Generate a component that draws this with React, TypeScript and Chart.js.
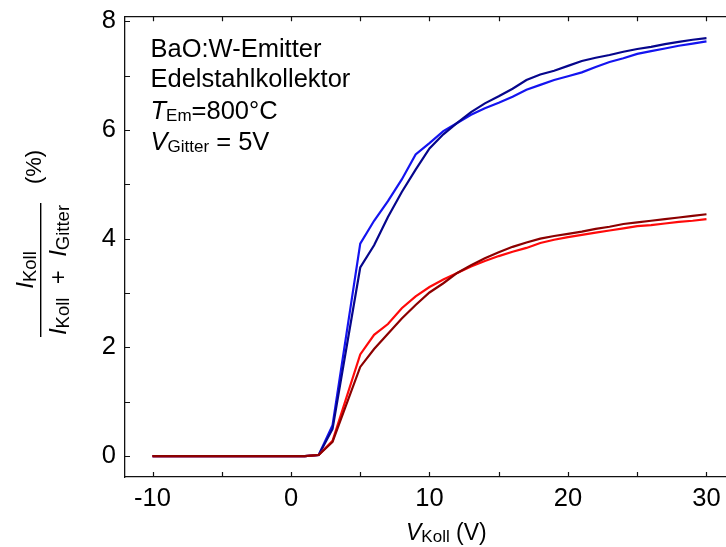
import React, { useEffect, useRef } from "react";
import { Chart, registerables } from "chart.js";

Chart.register(...registerables);

// Collector voltage V_Koll (V)
const voltages = [
  -10, -9, -8, -7, -6, -5, -4, -3, -2, -1, 0, 1, 2, 3,
  5, 6, 7, 8, 9, 10, 11, 12, 13, 14, 15, 16, 17, 18, 19, 20,
  21, 22, 23, 24, 25, 26, 27, 28, 29, 30,
];

// I_Koll / (I_Koll + I_Gitter) in %
const blueLight = [
  0, 0, 0, 0, 0, 0, 0, 0, 0, 0, 0, 0, 0.02, 0.57,
  3.91, 4.33, 4.69, 5.09, 5.55, 5.76, 5.98, 6.13, 6.28, 6.40, 6.50, 6.61, 6.74, 6.83, 6.92, 6.99,
  7.06, 7.16, 7.25, 7.32, 7.40, 7.45, 7.50, 7.55, 7.59, 7.63,
];
const blueDark = [
  0, 0, 0, 0, 0, 0, 0, 0, 0, 0, 0, 0, 0.02, 0.50,
  3.47, 3.88, 4.40, 4.86, 5.27, 5.66, 5.92, 6.13, 6.33, 6.49, 6.62, 6.76, 6.92, 7.02, 7.09, 7.18,
  7.27, 7.33, 7.38, 7.44, 7.49, 7.53, 7.58, 7.62, 7.66, 7.69,
];
const redLight = [
  0, 0, 0, 0, 0, 0, 0, 0, 0, 0, 0, 0, 0.02, 0.28,
  1.87, 2.23, 2.43, 2.72, 2.94, 3.11, 3.25, 3.37, 3.49, 3.59, 3.68, 3.76, 3.83, 3.92, 3.98, 4.03,
  4.07, 4.11, 4.15, 4.19, 4.23, 4.25, 4.28, 4.31, 4.33, 4.36,
];
const redDark = [
  0, 0, 0, 0, 0, 0, 0, 0, 0, 0, 0, 0, 0.02, 0.26,
  1.64, 1.97, 2.25, 2.53, 2.78, 3.01, 3.18, 3.37, 3.51, 3.64, 3.75, 3.85, 3.93, 4.00, 4.05, 4.09,
  4.13, 4.18, 4.22, 4.27, 4.30, 4.33, 4.36, 4.39, 4.42, 4.45,
];

const xTicks = [-10, -5, 0, 5, 10, 15, 20, 25, 30];
const xTickLabels = [-10, 0, 10, 20, 30];
const yTicks = [0, 1, 2, 3, 4, 5, 6, 7, 8];
const yTickLabels = [0, 2, 4, 6, 8];

const FAM = '"Liberation Sans", Arial, Helvetica, sans-serif';
const AX = "#111111";

type Part = { text: string; font: string; dy?: number };

function partsWidth(ctx: CanvasRenderingContext2D, parts: Part[]) {
  let w = 0;
  for (const p of parts) {
    ctx.font = p.font;
    w += ctx.measureText(p.text).width;
  }
  return w;
}

function drawParts(ctx: CanvasRenderingContext2D, x: number, y: number, parts: Part[]) {
  let cx = x;
  for (const p of parts) {
    ctx.font = p.font;
    ctx.fillText(p.text, cx, y + (p.dy || 0));
    cx += ctx.measureText(p.text).width;
  }
}

const decorPlugin = {
  id: "decor",
  afterDraw(chart: any) {
    const ctx: CanvasRenderingContext2D = chart.ctx;
    const { left, top, bottom } = chart.chartArea;
    const xs = chart.scales.x;
    const ys = chart.scales.y;
    ctx.save();
    // inward ticks
    ctx.strokeStyle = AX;
    ctx.lineWidth = 1.2;
    ctx.beginPath();
    for (const v of xTicks) {
      const px = Math.round(xs.getPixelForValue(v)) + 0.5;
      ctx.moveTo(px, bottom);
      ctx.lineTo(px, bottom - 5);
      ctx.moveTo(px, top);
      ctx.lineTo(px, top + 5);
    }
    for (const v of yTicks) {
      const py = Math.round(ys.getPixelForValue(v)) + 0.5;
      ctx.moveTo(left, py);
      ctx.lineTo(left + 5, py);
    }
    ctx.stroke();

    ctx.fillStyle = "#000";
    ctx.textAlign = "left";
    ctx.textBaseline = "alphabetic";

    // annotation
    const main = `25.5px ${FAM}`;
    const ital = `italic 25.5px ${FAM}`;
    const sub = `17px ${FAM}`;
    drawParts(ctx, 150.5, 56.7, [{ text: "BaO:W-Emitter", font: main }]);
    drawParts(ctx, 150.5, 86.7, [{ text: "Edelstahlkollektor", font: main }]);
    drawParts(ctx, 150.5, 119, [
      { text: "T", font: ital },
      { text: "Em", font: sub, dy: 2 },
      { text: "=800°C", font: main },
    ]);
    drawParts(ctx, 150.5, 150, [
      { text: "V", font: ital },
      { text: "Gitter", font: sub, dy: 2 },
      { text: " = 5V", font: main },
    ]);

    // x-axis title
    const xt: Part[] = [
      { text: "V", font: `italic 23px ${FAM}` },
      { text: "Koll", font: `17px ${FAM}`, dy: 2 },
      { text: " (V)", font: `23px ${FAM}` },
    ];
    drawParts(ctx, 406, 540, xt);

    // y-axis title (rotated fraction)
    const ym = 24;
    const ysb = 18.5;
    const num: Part[] = [
      { text: "I", font: `italic ${ym}px ${FAM}` },
      { text: "Koll", font: `${ysb}px ${FAM}`, dy: 3 },
    ];
    const den: Part[] = [
      { text: "I", font: `italic ${ym}px ${FAM}` },
      { text: "Koll", font: `${ysb}px ${FAM}`, dy: 3 },
      { text: "  +  ", font: `${ym}px ${FAM}` },
      { text: "I", font: `italic ${ym}px ${FAM}` },
      { text: "Gitter", font: `${ysb}px ${FAM}`, dy: 3 },
    ];
    const pct: Part[] = [{ text: "(%)", font: `22px ${FAM}` }];

    const rot = (cx: number, cy: number, parts: Part[]) => {
      ctx.save();
      ctx.translate(cx, cy);
      ctx.rotate(-Math.PI / 2);
      const w = partsWidth(ctx, parts);
      drawParts(ctx, -w / 2, 0, parts);
      ctx.restore();
    };
    rot(33, 270, num);
    rot(65.5, 270, den);
    rot(41, 167, pct);
    ctx.strokeStyle = "#000";
    ctx.lineWidth = 1.4;
    ctx.beginPath();
    ctx.moveTo(40.7, 203);
    ctx.lineTo(40.7, 337);
    ctx.stroke();

    ctx.restore();
  },
};

export default function App() {
  const ref = useRef<HTMLCanvasElement>(null);
  useEffect(() => {
    if (!ref.current) return;
    const mk = (vals: number[]) => voltages.map((v, i) => ({ x: v, y: vals[i] }));
    const ds = (label: string, vals: number[], color: string, order: number) => ({
      label,
      data: mk(vals),
      borderColor: color,
      backgroundColor: color,
      borderWidth: 2.2,
      pointRadius: 0,
      tension: 0,
      fill: false,
      order,
    });
    const chart = new Chart(ref.current, {
      type: "line",
      data: {
        datasets: [
          ds("redDark", redDark, "#8c0000", 0),
          ds("redLight", redLight, "#ff0a0a", 1),
          ds("blueDark", blueDark, "#06068c", 2),
          ds("blueLight", blueLight, "#1414f0", 3),
        ],
      },
      options: {
        animation: false,
        responsive: false,
        devicePixelRatio: 1,
        layout: { padding: 0 },
        plugins: { legend: { display: false }, tooltip: { enabled: false } },
        scales: {
          x: {
            type: "linear",
            position: "bottom",
            min: -11.986,
            max: 31.41,
            afterFit: (s: any) => {
              s.height = 70;
            },
            afterBuildTicks: (s: any) => {
              s.ticks = xTicks.map((value) => ({ value }));
            },
            grid: { display: false },
            border: { display: true, color: AX, width: 1.3 },
            ticks: {
              autoSkip: false,
              maxRotation: 0,
              padding: -1,
              color: "#000",
              font: { family: FAM, size: 25.5 },
              callback: (v: any) => (xTickLabels.includes(Number(v)) ? String(v) : ""),
            },
          },
          x2: {
            type: "linear",
            position: "top",
            display: true,
            min: -11.986,
            max: 31.41,
            afterFit: (s: any) => {
              s.height = 15;
            },
            grid: { display: false },
            border: { display: true, color: AX, width: 1.3 },
            ticks: { display: false },
          },
          y: {
            type: "linear",
            position: "left",
            min: -0.385,
            max: 8.092,
            afterFit: (s: any) => {
              s.width = 125;
            },
            afterBuildTicks: (s: any) => {
              s.ticks = yTicks.map((value) => ({ value }));
            },
            grid: { display: false },
            border: { display: true, color: AX, width: 1.3 },
            ticks: {
              autoSkip: false,
              padding: 1,
              color: "#000",
              font: { family: FAM, size: 25.5 },
              callback: (v: any) => (yTickLabels.includes(Number(v)) ? String(v) : ""),
            },
          },
        },
      },
      plugins: [decorPlugin],
    } as any);
    return () => chart.destroy();
  }, []);
  return (
    <canvas
      ref={ref}
      width={726}
      height={547}
      style={{ position: "fixed", left: 0, top: 0, width: 726, height: 547, background: "#fff" }}
    />
  );
}
